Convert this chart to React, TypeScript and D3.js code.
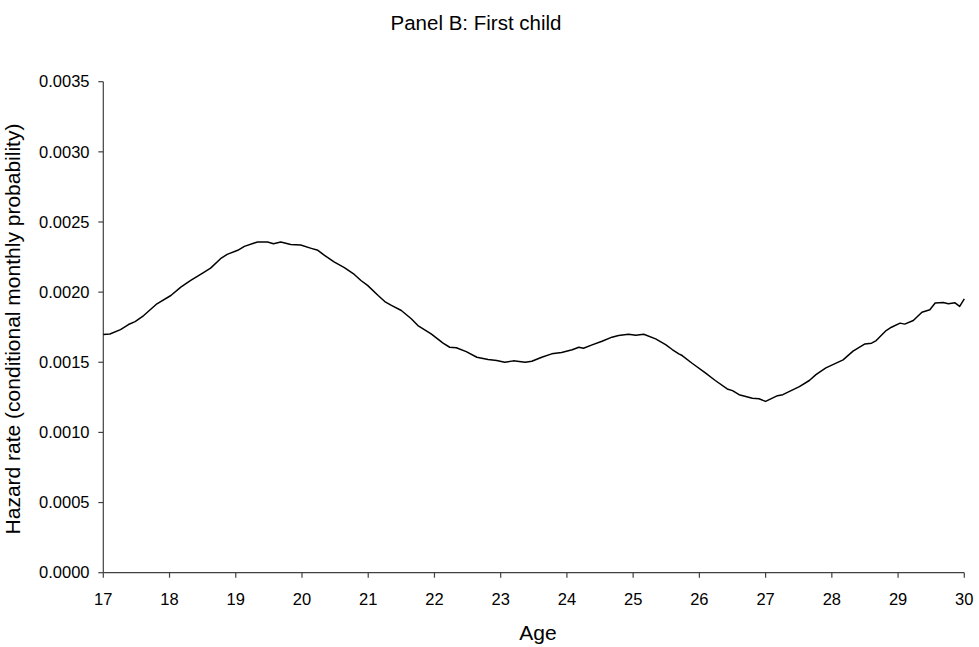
import React from "react";
import * as d3 from "d3";

const ages: number[] = [
  17.0, 17.1, 17.26, 17.38, 17.48, 17.61, 17.81, 18.02, 18.17, 18.32, 18.5, 18.62, 18.77, 18.87,
  19.03, 19.13, 19.28, 19.33, 19.48, 19.57, 19.68, 19.83, 19.98, 20.14, 20.24, 20.34, 20.49, 20.64,
  20.79, 20.89, 20.99, 21.15, 21.25, 21.35, 21.5, 21.65, 21.75, 21.95, 22.13, 22.23, 22.33, 22.48,
  22.64, 22.81, 22.94, 23.06, 23.19, 23.37, 23.47, 23.62, 23.77, 23.92, 24.08, 24.18, 24.25, 24.38,
  24.53, 24.68, 24.78, 24.93, 25.04, 25.16, 25.34, 25.49, 25.59, 25.69, 25.74, 25.89, 26.09, 26.24,
  26.42, 26.5, 26.6, 26.8, 26.9, 27.0, 27.18, 27.26, 27.51, 27.66, 27.76, 27.91, 28.17, 28.32, 28.5,
  28.6, 28.67, 28.82, 28.9, 29.03, 29.1, 29.23, 29.36, 29.48, 29.56, 29.68, 29.76, 29.86, 29.93, 30.0,
];

const hazard: number[] = [
  0.001698, 0.001702, 0.001733, 0.001769, 0.00179, 0.001833, 0.001917, 0.001976, 0.002036, 0.002083,
  0.002136, 0.002171, 0.002238, 0.002269, 0.002298, 0.002326, 0.00235, 0.002357, 0.002357, 0.002345,
  0.002357, 0.00234, 0.002336, 0.002312, 0.002298, 0.002262, 0.002214, 0.002174, 0.002126, 0.002083,
  0.002048, 0.001976, 0.001933, 0.001905, 0.001869, 0.00181, 0.001762, 0.001703, 0.001636, 0.001607,
  0.001603, 0.001576, 0.001536, 0.00152, 0.001512, 0.0015, 0.00151, 0.0015, 0.001507, 0.001536,
  0.00156, 0.00157, 0.001589, 0.001607, 0.0016, 0.001624, 0.00165, 0.001679, 0.001691, 0.0017,
  0.001693, 0.0017, 0.001667, 0.001626, 0.001591, 0.00156, 0.001548, 0.001493, 0.001424, 0.00137,
  0.00131, 0.001298, 0.001269, 0.001243, 0.00124, 0.001221, 0.001262, 0.001269, 0.001326, 0.00137,
  0.001412, 0.00146, 0.001517, 0.001579, 0.001631, 0.001636, 0.001655, 0.001726, 0.00175, 0.001779,
  0.001772, 0.001798, 0.001857, 0.001874, 0.001922, 0.001926, 0.001917, 0.001924, 0.001898, 0.001952,
];

const xTicks: number[] = [17, 18, 19, 20, 21, 22, 23, 24, 25, 26, 27, 28, 29, 30];
const yTicks: number[] = [0, 0.0005, 0.001, 0.0015, 0.002, 0.0025, 0.003, 0.0035];

const titleText = "Panel B: First child";
const xTitle = "Age";
const yTitle = "Hazard rate (conditional monthly probability)";

export default function App() {
  const W = 979;
  const H = 647;
  const left = 103.3;
  const right = 964.3;
  const top = 81.7;
  const bottom = 572.7;

  const x = d3.scaleLinear().domain([17, 30]).range([left, right]);
  const y = d3.scaleLinear().domain([0, 0.0035]).range([bottom, top]);

  const pts: [number, number][] = ages.map((a, i) => [a, hazard[i]]);
  const line = d3
    .line<[number, number]>()
    .x((d) => x(d[0]))
    .y((d) => y(d[1]));

  const font = "'Liberation Sans', Arial, sans-serif";
  const axisColor = "#404040";

  return (
    <svg
      width={W}
      height={H}
      style={{ position: "absolute", left: 0, top: 0, background: "#fff" }}
      fontFamily={font}
    >
      <rect x={0} y={0} width={W} height={H} fill="#fff" />
      <text x={476} y={30} textAnchor="middle" fontSize={20.5} fill="#000">
        {titleText}
      </text>

      {/* y axis */}
      <line x1={left} x2={left} y1={top} y2={bottom} stroke={axisColor} strokeWidth={1.2} />
      {yTicks.map((t) => (
        <g key={"y" + t}>
          <line x1={left - 5} x2={left} y1={y(t)} y2={y(t)} stroke={axisColor} strokeWidth={1.2} />
          <text x={89.5} y={y(t)} dy="0.35em" textAnchor="end" fontSize={16.5} fill="#000">
            {d3.format(".4f")(t)}
          </text>
        </g>
      ))}

      {/* x axis */}
      <line x1={left} x2={right} y1={bottom} y2={bottom} stroke={axisColor} strokeWidth={1.2} />
      {xTicks.map((t) => (
        <g key={"x" + t}>
          <line x1={x(t)} x2={x(t)} y1={bottom} y2={bottom + 5} stroke={axisColor} strokeWidth={1.2} />
          <text x={x(t)} y={605} textAnchor="middle" fontSize={16.5} fill="#000">
            {t}
          </text>
        </g>
      ))}

      <text x={538} y={640} textAnchor="middle" fontSize={21} fill="#000">
        {xTitle}
      </text>
      <text
        transform={`translate(20, 329) rotate(-90)`}
        textAnchor="middle"
        fontSize={21}
        fill="#000"
      >
        {yTitle}
      </text>

      <path d={line(pts) || ""} fill="none" stroke="#000" strokeWidth={1.5} strokeLinejoin="round" />
    </svg>
  );
}
